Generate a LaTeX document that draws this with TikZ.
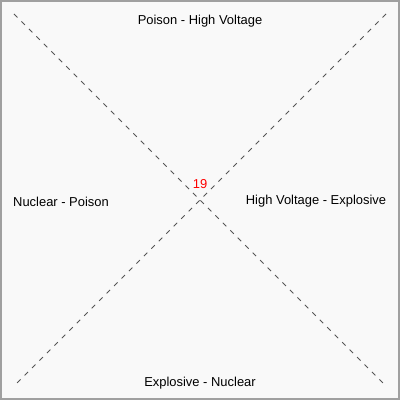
\documentclass[tikz,border=0pt]{standalone}
\usepackage{fontspec}
\setmainfont{Liberation Sans}
\definecolor{panelbg}{RGB}{249,249,249}
\definecolor{framegray}{RGB}{160,160,160}
\definecolor{diaggray}{RGB}{85,85,85}

\begin{document}
\begin{tikzpicture}[
        x=0.025cm, y=-0.025cm,
        diag/.style={draw=diaggray, line width=0.6pt, dash pattern=on 3.5pt off 4pt},
        sidetext/.style={font=\fontsize{9.2}{11}\selectfont, text=black, inner sep=0pt},
        count/.style={font=\fontsize{9.2}{11}\selectfont, text=red, inner sep=0pt}
        ]
        \useasboundingbox (0,0) rectangle (400,400);
        \fill[panelbg, draw=framegray, line width=1.2pt] (0.8,0.8) rectangle (399.2,399.2);

        % diagonal corners
        \coordinate (tl) at (14,14);
        \coordinate (br) at (386,386);
        \coordinate (tr) at (386,14);
        \coordinate (bl) at (14,386);
        \draw[diag] (tl) -- (br);
        \draw[diag] (tr) -- (bl);

        % quadrant labels
        \node[sidetext] (top) at (200,21.5) {Poison - High Voltage};
        \node[sidetext] (left) at (61,201.5) {Nuclear - Poison};
        \node[sidetext] (right) at (316,201.5) {High Voltage - Explosive};
        \node[sidetext] (bottom) at (200,383.5) {Explosive - Nuclear};
        \node[count] (mid) at (200,184) {19};
    \end{tikzpicture}
\end{document}
